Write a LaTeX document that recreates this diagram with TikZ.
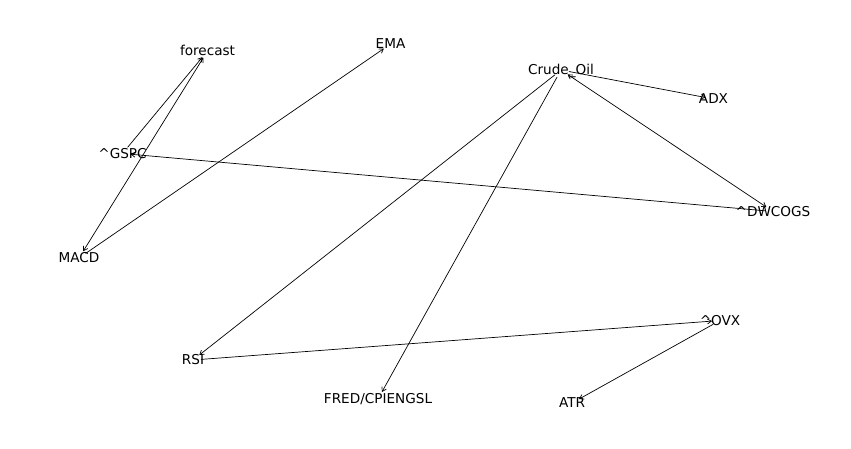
\documentclass[tikz,border=0pt]{standalone}
\usepackage{fontspec}
\setmainfont{DejaVu Sans}
\usetikzlibrary{arrows.meta}
\begin{document}
\begin{tikzpicture}[x=1pt,y=-1pt,
  lbl/.style={inner sep=0pt,outer sep=0pt,text height=9.5pt,text depth=0pt,anchor=center,font=\fontsize{13.6pt}{15pt}\selectfont},
  tip/.style={Straight Barb[length=4pt,width=5pt,line width=0.7pt]},
  edge/.style={line width=0.7pt,-{Straight Barb[length=4pt,width=5pt,line width=0.7pt]},shorten >=8pt,shorten <=8pt},
  biedge/.style={line width=0.7pt,{Straight Barb[length=4pt,width=5pt,line width=0.7pt]}-{Straight Barb[length=4pt,width=5pt,line width=0.7pt]},shorten >=8pt,shorten <=8pt}]
\useasboundingbox (0,0) rectangle (851,449);
\fill[white] (0,0) rectangle (851,449);
% node positions
\coordinate (forecast) at (207.5,51);
\coordinate (ema) at (390.5,44);
\coordinate (crude) at (561,70);
\coordinate (adx) at (713.5,99);
\coordinate (gspc) at (122.5,153.5);
\coordinate (dwcogs) at (773,211.5);
\coordinate (macd) at (79,258);
\coordinate (ovx) at (720,320.5);
\coordinate (rsi) at (193,360);
\coordinate (fred) at (378,399);
\coordinate (atr) at (572,403);
% edges
\draw[edge] (gspc) -- (forecast);
\draw[biedge] (forecast) -- (macd);
\draw[edge] (macd) -- (ema);
\draw[edge] (dwcogs) -- (gspc);
\draw[edge] (crude) -- (adx);
\draw[biedge] (crude) -- (dwcogs);
\draw[edge] (crude) -- (rsi);
\draw[edge] (crude) -- (fred);
\draw[edge] (rsi) -- (ovx);
\draw[edge] (ovx) -- (atr);
% labels
\node[lbl] (forecastL) at (forecast) {forecast};
\node[lbl] (emaL) at (ema) {EMA};
\node[lbl] (crudeL) at (crude) {Crude\_Oil};
\node[lbl] (adxL) at (adx) {ADX};
\node[lbl] (gspcL) at (gspc) {\^{}GSPC};
\node[lbl] (dwcogsL) at (dwcogs) {\^{}DWCOGS};
\node[lbl] (macdL) at (macd) {MACD};
\node[lbl] (ovxL) at (ovx) {\^{}OVX};
\node[lbl] (rsiL) at (rsi) {RSI};
\node[lbl] (fredL) at (fred) {FRED/CPIENGSL};
\node[lbl] (atrL) at (atr) {ATR};
\end{tikzpicture}
\end{document}
